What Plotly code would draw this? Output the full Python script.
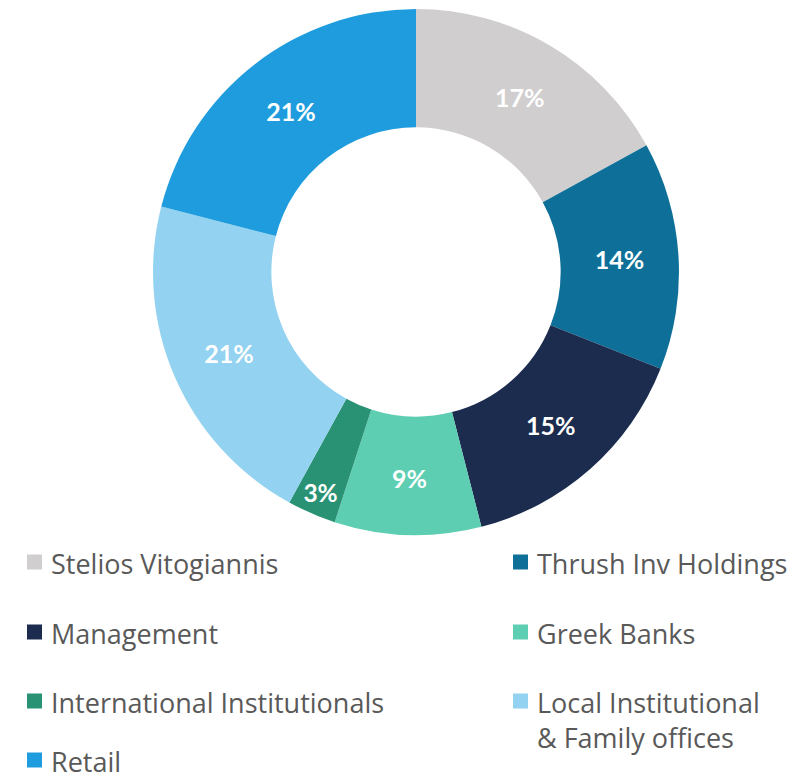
import plotly.graph_objects as go

W, H = 808, 780

labels = ["Stelios Vitogiannis", "Thrush Inv Holdings", "Management", "Greek Banks",
          "International Institutionals", "Local Institutional<br>& Family offices", "Retail"]
shares = [17, 14, 15, 9, 3, 21, 21]
colors = ["#D0CECE", "#0E7099", "#1B2C4F", "#5DCEB1", "#2A9274", "#93D2F0", "#1F9CDD"]

# donut geometry in pixels
cx, cy, r = 416, 272, 263

fig = go.Figure(go.Pie(
    labels=labels,
    values=shares,
    text=[f"{v}%" for v in shares],
    textinfo="text",
    textposition="inside",
    insidetextorientation="horizontal",
    textfont=dict(family="Lato", size=25, color="white", weight="bold"),
    marker=dict(colors=colors, line=dict(width=0)),
    hole=0.55,
    sort=False,
    direction="clockwise",
    rotation=0,
    domain=dict(x=[(cx - r) / W, (cx + r) / W], y=[1 - (cy + r) / H, 1 - (cy - r) / H]),
    showlegend=False,
    hoverinfo="label+percent",
))

# two-column legend drawn as squares + text
col_x = [27, 513]
row_y = [562, 632, 701, 760]
sq = 15
fs = 27
shapes, annots = [], []
for i, (lab, col) in enumerate(zip(labels, colors)):
    c, rw = i % 2, i // 2
    x0, y0 = col_x[c], row_y[rw]
    shapes.append(dict(type="rect", xref="paper", yref="paper",
                       x0=x0 / W, x1=(x0 + sq) / W,
                       y0=1 - (y0 + sq / 2) / H, y1=1 - (y0 - sq / 2) / H,
                       fillcolor=col, line=dict(width=0)))
    annots.append(dict(xref="paper", yref="paper", x=(x0 + sq + 8) / W,
                       y=1 - (y0 - 18) / H, xanchor="left", yanchor="top",
                       text=lab, showarrow=False, align="left", borderpad=0,
                       font=dict(family="Open Sans", size=fs, color="#595959")))

fig.update_layout(
    width=W, height=H,
    margin=dict(l=0, r=0, t=0, b=0),
    paper_bgcolor="white",
    plot_bgcolor="white",
    shapes=shapes,
    annotations=annots,
)

fig.write_html("out.html")
